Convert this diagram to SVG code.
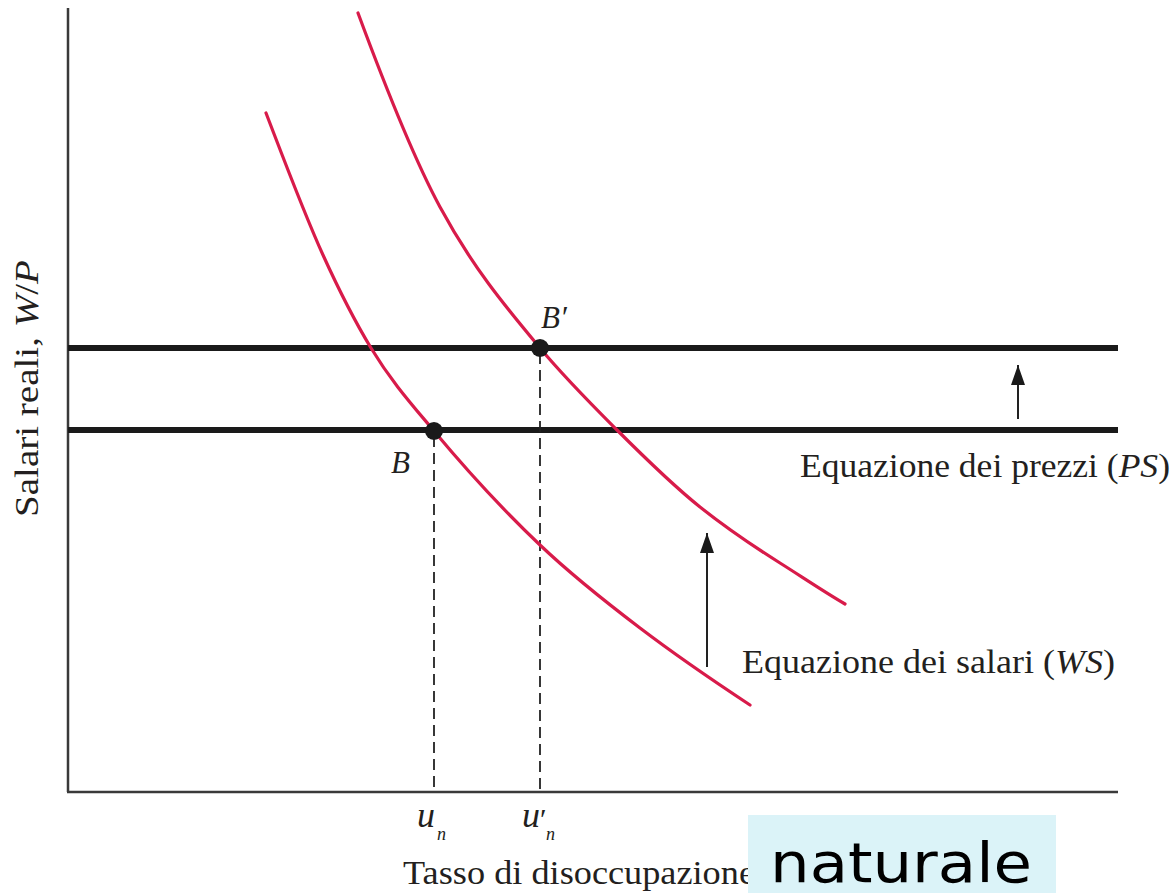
<svg xmlns="http://www.w3.org/2000/svg" width="1176" height="893" viewBox="0 0 1176 893">
<style>
.t{font-family:"Liberation Serif","Times New Roman",serif;fill:#231f20}
.i{font-style:italic}
.curve{fill:none;stroke:#d81b4a;stroke-width:3.2;stroke-linecap:round}
.ps{stroke:#1a1a1a;stroke-width:6}
.dash{stroke:#222;stroke-width:1.8;stroke-dasharray:11 6}
.arr{stroke:#222;stroke-width:2}
</style>
<defs>
<marker id="ah" markerWidth="20" markerHeight="14" refX="20" refY="7" orient="auto" markerUnits="userSpaceOnUse" viewBox="0 0 20 14">
<path d="M20,7 L0,0 L0,14 Z" fill="#1a1a1a"/>
</marker>
</defs>
<rect width="1176" height="893" fill="#fff"/>
<g id="axes" stroke="#3a3a3a" stroke-width="2.5" fill="none">
<line x1="68" y1="8" x2="68" y2="792"/>
<line x1="67" y1="792" x2="1118" y2="792"/>
</g>
<g id="ps-lines">
<line class="ps" x1="68" y1="348" x2="1118" y2="348"/>
<line class="ps" x1="68" y1="430" x2="1118" y2="430"/>
</g>
<g id="dashed">
<line class="dash" x1="434" y1="436" x2="434" y2="792"/>
<line class="dash" x1="540" y1="353" x2="540" y2="792"/>
</g>
<g id="ws-curves">
<path id="ws1" class="curve" d="M266,113 C285,162.4 304,213.2 323,255 C339,290.2 355,321.6 371,348 C392,382.65 413,405.8 434,431 C469.33,473.4 504.67,511.4 540,545 C573.33,576.7 606.67,602.7 640,628 C676.67,655.9 713.33,680.8 750,705"/>
<path id="ws2" class="curve" d="M358,13 C385.33,86.8 412.67,156.4 440,207 C473.33,268.7 506.67,308 540,348 C565.67,378.8 591.33,404.3 617,430 C644.67,457.67 672.33,484.9 700,507 C726.67,528.3 753.33,546.2 780,563 C801.67,576.65 823.33,591.4 845,604"/>
</g>
<g id="points">
<circle id="B" cx="434" cy="431" r="9" fill="#1a1a1a"/>
<circle id="Bp" cx="540" cy="348" r="9" fill="#1a1a1a"/>
</g>
<g id="connectors">
<line class="arr" x1="1018" y1="419" x2="1018" y2="365" marker-end="url(#ah)"/>
<line class="arr" x1="707" y1="667" x2="707" y2="533" marker-end="url(#ah)"/>
</g>
<g id="labels">
<text class="t i" x="541" y="328" font-size="31">B′</text>
<text class="t i" x="391" y="473" font-size="31">B</text>
<text class="t" x="800" y="477" font-size="33" textLength="370" lengthAdjust="spacingAndGlyphs">Equazione dei prezzi (<tspan class="i">PS</tspan>)</text>
<text class="t" x="742" y="673" font-size="33" textLength="373" lengthAdjust="spacingAndGlyphs">Equazione dei salari (<tspan class="i">WS</tspan>)</text>
<text class="t i" x="417" y="827" font-size="36">u<tspan x="437" y="840" font-size="18">n</tspan></text>
<text class="t i" x="522" y="827" font-size="36">u<tspan x="540" y="829" font-style="normal" font-size="30">′</tspan><tspan x="546" y="840" font-size="18">n</tspan></text>
<text class="t" transform="translate(38,517) rotate(-90)" font-size="33" textLength="257" lengthAdjust="spacingAndGlyphs">Salari reali, <tspan class="i">W</tspan>/<tspan class="i">P</tspan></text>
<text class="t" x="403" y="884" font-size="33" textLength="352" lengthAdjust="spacingAndGlyphs">Tasso di disoccupazione</text>
</g>
<g id="naturale">
<rect x="748" y="815" width="308" height="78" fill="#dbf3f8"/>
<text x="770" y="882" font-family="DejaVu Sans, Verdana, sans-serif" font-size="56" fill="#000" textLength="262" lengthAdjust="spacingAndGlyphs">naturale</text>
</g>
</svg>
